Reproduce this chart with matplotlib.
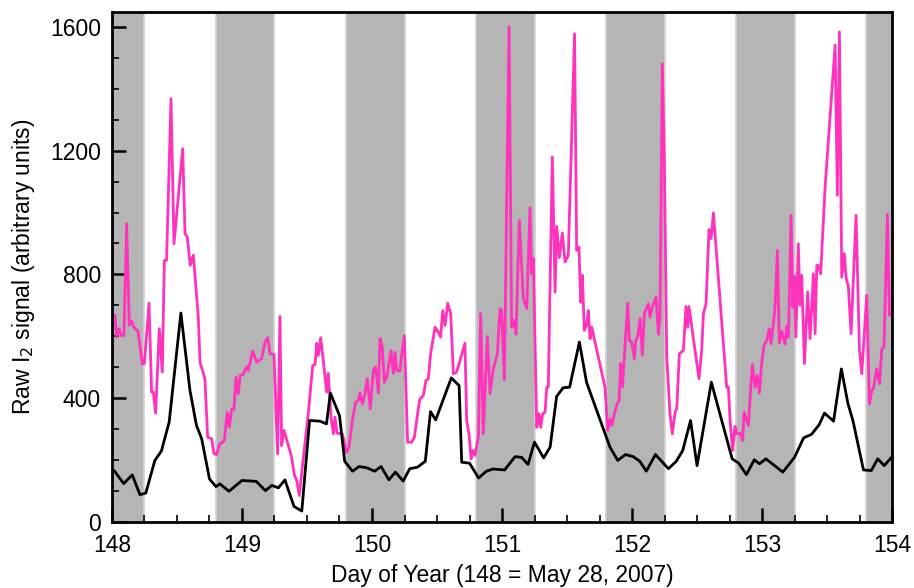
import matplotlib
matplotlib.use("Agg")
import matplotlib.pyplot as plt
from matplotlib.ticker import MultipleLocator

plt.rcParams["font.family"] = ["Liberation Sans", "DejaVu Sans"]

# night periods (shaded), day of year
NIGHT_START = [147.8, 148.8, 149.8, 150.8, 151.8, 152.8, 153.8]
NIGHT_END = [148.25, 149.25, 150.25, 151.25, 152.25, 153.25, 154.25]

# black trace (lower, smoother series)
black_day = [
    148.02, 148.09, 148.156, 148.215, 148.26, 148.33, 148.38, 148.44, 148.53,
    148.6, 148.65, 148.69, 148.75, 148.8, 148.83, 148.9, 149.0, 149.11, 149.18,
    149.23, 149.28, 149.33, 149.4, 149.46, 149.52, 149.6, 149.65, 149.68,
    149.75, 149.79, 149.85, 149.9, 149.96, 150.02, 150.07, 150.13, 150.18,
    150.24, 150.29, 150.35, 150.41, 150.45, 150.49, 150.61, 150.67, 150.69,
    150.75, 150.82, 150.88, 150.93, 151.02, 151.1, 151.15, 151.2, 151.25,
    151.32, 151.37, 151.42, 151.47, 151.52, 151.595, 151.65, 151.83, 151.89,
    151.95, 152.01, 152.06, 152.11, 152.18, 152.28, 152.34, 152.39, 152.45,
    152.5, 152.61, 152.77, 152.82, 152.88, 152.94, 152.98, 153.03, 153.16,
    153.25, 153.32, 153.38, 153.44, 153.48, 153.55, 153.61, 153.66, 153.7,
    153.78, 153.84, 153.89, 153.94, 154.0,
]
black_val = [
    163, 123, 151, 87, 92, 198, 228, 322, 675,
    424, 311, 268, 138, 113, 122, 98, 133, 130, 100,
    117, 109, 135, 49, 34, 327, 325, 316, 416,
    343, 195, 163, 178, 174, 163, 178, 135, 160,
    131, 171, 176, 195, 356, 329, 465, 440, 192,
    189, 141, 163, 170, 167, 210, 208, 185, 257,
    206, 241, 405, 433, 435, 581, 451, 241, 198,
    217, 210, 195, 163, 217, 171, 195, 230, 327,
    181, 451, 203, 189, 152, 200, 187, 203, 160,
    208, 271, 282, 314, 351, 325, 494, 383, 325,
    167, 165, 203, 181, 210,
]

# pink trace (raw, noisy series)
pink_day = [
    148.023, 148.036, 148.054, 148.074, 148.092, 148.113, 148.133, 148.151,
    148.169, 148.2, 148.233, 148.249, 148.267, 148.285, 148.305, 148.318,
    148.336, 148.364, 148.387, 148.403, 148.42, 148.454, 148.477, 148.544,
    148.562, 148.579, 148.602, 148.626, 148.664, 148.677, 148.715, 148.736,
    148.767, 148.785, 148.805, 148.825, 148.864, 148.887, 148.903, 148.921,
    148.938, 148.954, 148.972, 148.985, 149.01, 149.036, 149.049, 149.082,
    149.113, 149.151, 149.177, 149.198, 149.215, 149.246, 149.274, 149.292,
    149.305, 149.323, 149.344, 149.382, 149.402, 149.421, 149.441, 149.464,
    149.51, 149.544, 149.562, 149.575, 149.587, 149.605, 149.626, 149.651,
    149.664, 149.685, 149.703, 149.715, 149.731, 149.772, 149.805, 149.823,
    149.849, 149.874, 149.895, 149.908, 149.926, 149.946, 149.964, 149.987,
    150.01, 150.028, 150.049, 150.062, 150.079, 150.095, 150.113, 150.146,
    150.164, 150.177, 150.19, 150.215, 150.228, 150.249, 150.274, 150.305,
    150.326, 150.356, 150.369, 150.395, 150.415, 150.433, 150.451, 150.485,
    150.51, 150.528, 150.544, 150.562, 150.582, 150.605, 150.626, 150.651,
    150.715, 150.728, 150.746, 150.762, 150.774, 150.792, 150.818, 150.836,
    150.856, 150.887, 150.908, 150.933, 150.964, 150.985, 150.997, 151.018,
    151.054, 151.074, 151.092, 151.108, 151.133, 151.164, 151.19, 151.215,
    151.228, 151.241, 151.267, 151.285, 151.298, 151.313, 151.331, 151.344,
    151.356, 151.387, 151.408, 151.421, 151.441, 151.464, 151.485, 151.51,
    151.558, 151.574, 151.592, 151.605, 151.618, 151.633, 151.651, 151.664,
    151.677, 151.69, 151.792, 151.813, 151.831, 151.844, 151.864, 151.882,
    151.9, 151.913, 151.926, 151.967, 151.979, 151.997, 152.018, 152.028,
    152.044, 152.062, 152.079, 152.095, 152.126, 152.138, 152.156, 152.185,
    152.203, 152.215, 152.233, 152.249, 152.267, 152.292, 152.31, 152.331,
    152.344, 152.364, 152.395, 152.415, 152.428, 152.438, 152.515, 152.536,
    152.549, 152.569, 152.592, 152.608, 152.626, 152.728, 152.741, 152.754,
    152.774, 152.792, 152.805, 152.831, 152.851, 152.862, 152.895, 152.913,
    152.926, 152.946, 152.964, 152.979, 152.998, 153.015, 153.036, 153.056,
    153.069, 153.087, 153.1, 153.118, 153.133, 153.151, 153.177, 153.19,
    153.203, 153.223, 153.236, 153.249, 153.26, 153.279, 153.292, 153.305,
    153.326, 153.351, 153.369, 153.395, 153.408, 153.421, 153.433, 153.451,
    153.485, 153.562, 153.579, 153.595, 153.613, 153.633, 153.646, 153.664,
    153.685, 153.723, 153.749, 153.767, 153.805, 153.826, 153.844, 153.856,
    153.882, 153.903, 153.921, 153.938, 153.964, 153.979, 153.992,
]
pink_val = [
    667, 597, 624, 602, 602, 964, 635, 649,
    629, 616, 511, 511, 608, 707, 419, 419,
    351, 624, 484, 845, 845, 1369, 899, 1207,
    932, 921, 829, 862, 662, 516, 462, 273,
    268, 219, 217, 249, 262, 354, 306, 365,
    362, 467, 414, 473, 476, 502, 489, 552,
    516, 527, 581, 595, 543, 541, 219, 664,
    246, 295, 265, 208, 152, 133, 84, 176,
    349, 505, 508, 577, 538, 595, 519, 419,
    480, 338, 284, 338, 286, 284, 224, 241,
    327, 386, 392, 416, 381, 414, 462, 365,
    489, 500, 416, 592, 565, 451, 467, 552,
    480, 548, 489, 487, 538, 602, 257, 257,
    273, 365, 397, 408, 457, 462, 543, 629,
    613, 597, 683, 635, 707, 673, 478, 484,
    577, 327, 284, 203, 230, 214, 273, 673,
    284, 599, 414, 494, 543, 689, 683, 459,
    1601, 629, 651, 606, 975, 721, 689, 1016,
    802, 851, 305, 349, 305, 349, 354, 435,
    435, 1180, 743, 955, 854, 934, 840, 862,
    1579, 878, 888, 710, 797, 619, 635, 683,
    592, 629, 435, 295, 332, 311, 349, 376,
    392, 511, 435, 707, 586, 581, 527, 586,
    599, 657, 538, 673, 705, 662, 694, 727,
    606, 657, 1482, 1158, 532, 349, 284, 354,
    365, 543, 554, 696, 629, 696, 462, 554,
    673, 705, 945, 916, 999, 435, 435, 327,
    230, 308, 284, 286, 262, 354, 311, 435,
    508, 435, 473, 416, 516, 570, 586, 624,
    575, 640, 694, 878, 577, 616, 575, 632,
    597, 991, 694, 794, 597, 899, 700, 797,
    511, 743, 592, 802, 608, 829, 829, 802,
    1083, 1542, 1056, 1585, 791, 867, 791, 759,
    608, 991, 559, 478, 732, 381, 424, 430,
    494, 446, 559, 565, 994, 667, 673,
]


def plot_signal():
    fig = plt.figure(figsize=(9.14, 5.88), dpi=100)
    ax = fig.add_axes([0.1225, 0.113, 0.8535, 0.867])

    for start, end in zip(NIGHT_START, NIGHT_END):
        ax.axvspan(start, end, facecolor="#b5b5b5", edgecolor="#d2d2d2",
                   linewidth=1.2, zorder=0)

    ax.plot(pink_day, pink_val, color="#ff33bb", linewidth=2, zorder=2)
    ax.plot(black_day, black_val, color="black", linewidth=2, zorder=3)

    ax.set_xlim(148, 154)
    ax.set_ylim(0, 1650)
    ax.xaxis.set_major_locator(MultipleLocator(1))
    ax.xaxis.set_minor_locator(MultipleLocator(0.25))
    ax.yaxis.set_major_locator(MultipleLocator(400))
    ax.yaxis.set_minor_locator(MultipleLocator(100))
    ax.tick_params(which="major", direction="in", length=10, width=1.8,
                   labelsize=16.5)
    ax.tick_params(axis="x", which="major", pad=9)
    ax.tick_params(axis="y", which="major", pad=8)
    ax.tick_params(which="minor", direction="in", length=5, width=1.2)
    for spine in ax.spines.values():
        spine.set_linewidth(2)
        spine.set_zorder(5)

    ax.set_xlabel("Day of Year (148 = May 28, 2007)", fontsize=16.5, labelpad=5)
    ax.set_ylabel("Raw I$_2$ signal (arbitrary units)", fontsize=16.5, labelpad=9)

    fig.savefig("out.png", dpi=100)


if __name__ == "__main__":
    plot_signal()
